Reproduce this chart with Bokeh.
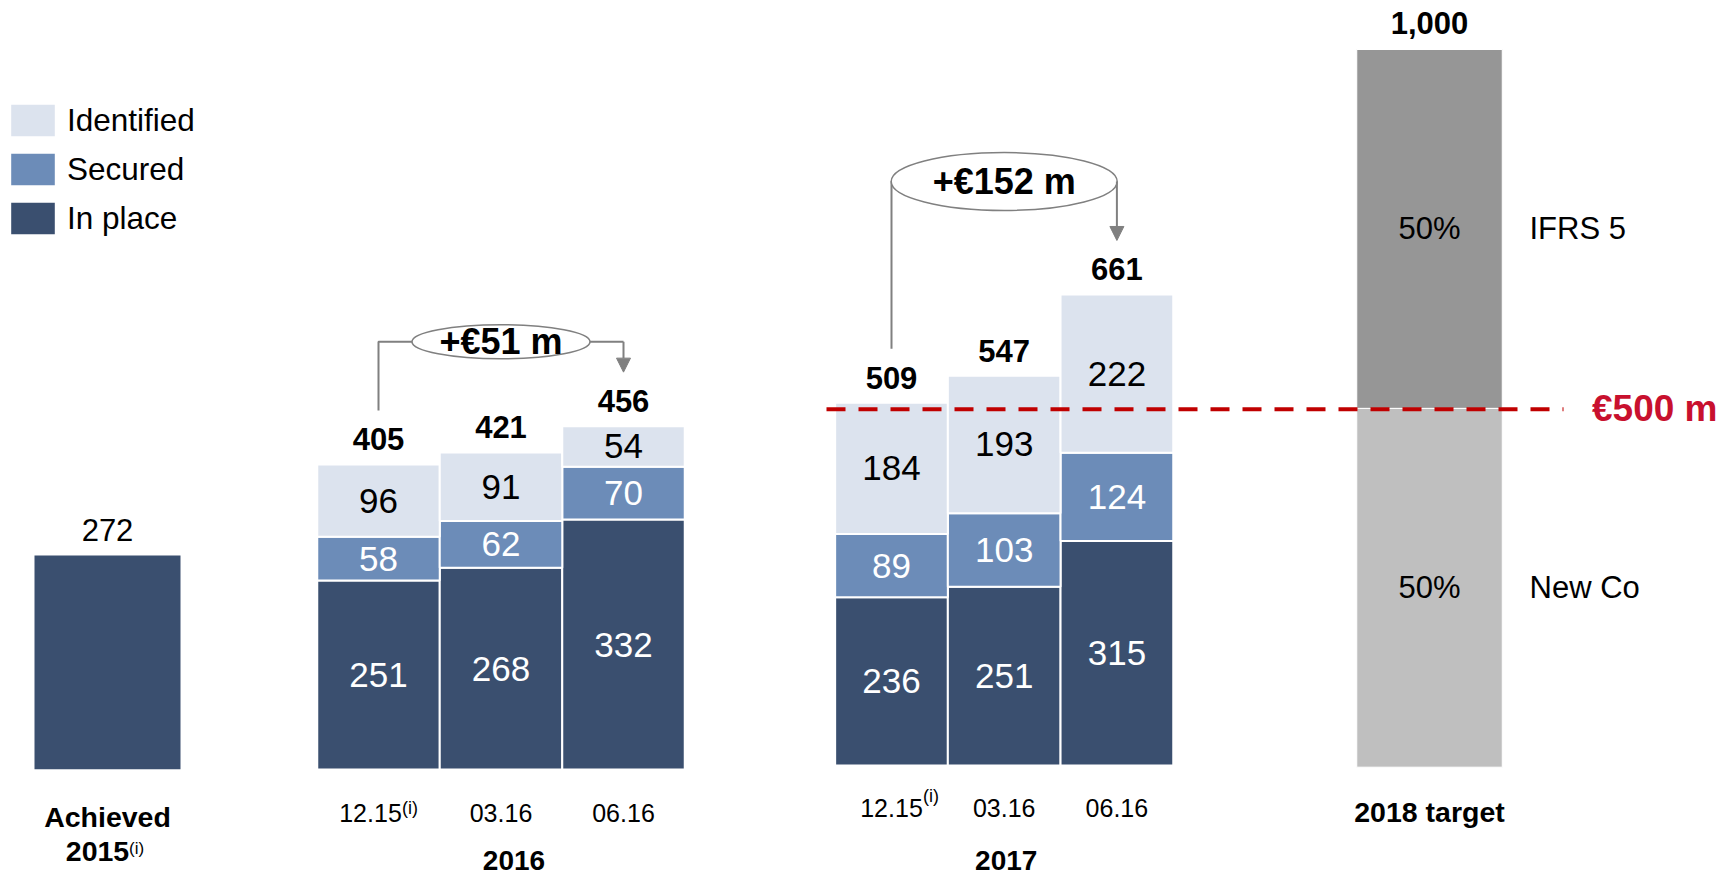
import numpy as np
from bokeh.plotting import figure
from bokeh.models import (Range1d, ColumnDataSource, Legend, LegendItem, Arrow,
                          NormalHead)
from bokeh.core.properties import value
from bokeh.embed import file_html
from bokeh.resources import INLINE

# ---------------- data (EUR m) ----------------
series_names = ["In place", "Secured", "Identified"]

achieved_label = "Achieved"
achieved_year = "2015"
achieved_in_place = [272]

periods = ["12.15", "03.16", "06.16"]
period_notes = ["(i)", "", ""]

y2016_in_place = [251, 268, 332]
y2016_secured = [58, 62, 70]
y2016_identified = [96, 91, 54]

y2017_in_place = [236, 251, 315]
y2017_secured = [89, 103, 124]
y2017_identified = [184, 193, 222]

target_label = "2018 target"
target_parts = ["New Co", "IFRS 5"]
target_values = [500, 500]

threshold = 500

# ---------------- layout / style ----------------
W, H = 1732, 876
FONT = "Liberation Sans"
FV = value(FONT)
C_IN, C_SEC, C_ID = "#3A4F6F", "#6C8CB8", "#DCE3EE"
C_NEWCO, C_IFRS = "#BFBFBF", "#969696"
GRAY = "#808080"
RED_LINE, RED_TEXT = "#C00000", "#C8102E"

# panel geometry: first bar centre (px), px per category, baseline (px), px per EUR m
GEOM = {
    "g15": (107.0, 146.0, 768.7, 0.786),
    "g16": (378.0, 122.5, 769.0, 0.753),
    "g17": (891.0, 112.7, 765.0, 0.7126),
    "g18": (1429.0, 145.5, 766.7, 0.7177),
}


def xrange_for(g):
    first, step, base, k = GEOM[g]
    return Range1d(-first / step, (W - first) / step)


def yrange_for(g):
    first, step, base, k = GEOM[g]
    return Range1d(-(H - base) / k, base / k)


def R(g):
    return dict(x_range_name=g, y_range_name=g)


p = figure(width=W, height=H, x_range=xrange_for("g16"), y_range=yrange_for("g16"),
           x_axis_type=None, y_axis_type=None, toolbar_location=None,
           min_border=0, outline_line_color=None, output_backend="svg",
           background_fill_color="white", border_fill_color="white")
p.extra_x_ranges = {g: xrange_for(g) for g in GEOM}
p.extra_y_ranges = {g: yrange_for(g) for g in GEOM}


def texts(g, xs, ys, labels, size, bold=False, color="black", align="center",
          baseline="middle", dx=0, dy=0):
    n = len(labels)
    src = ColumnDataSource(dict(
        x=list(xs), y=list(ys), text=list(labels),
        color=color if isinstance(color, list) else [color] * n,
        dx=dx if isinstance(dx, list) else [dx] * n,
        dy=dy if isinstance(dy, list) else [dy] * n,
    ))
    p.text(x="x", y="y", text="text", source=src, text_color="color",
           x_offset="dx", y_offset="dy", text_font=FV, text_font_size=size,
           text_font_style="bold" if bold else "normal", text_align=align,
           text_baseline=baseline, **R(g))


# ---------------- Achieved 2015 ----------------
p.vbar(x=[0], top=achieved_in_place, width=1.0, fill_color=C_IN, line_color=None, **R("g15"))
texts("g15", [0], achieved_in_place, [str(v) for v in achieved_in_place], "31px", dy=-25.3)
texts("g15", [0], [0], [achieved_label], "28.5px", bold=True, dy=47.8)
texts("g15", [0], [0], [achieved_year], "28.5px", bold=True, dy=82.3, dx=-10)
texts("g15", [0], [0], ["(i)"], "17px", align="left", dy=79.5, dx=21.5)


# ---------------- stacked periods ----------------
def stacked_panel(g, inplace, sec, ident, year, note_dx, note_dy, main_dx, main_dy,
                  year_dx, year_dy):
    n = len(inplace)
    xs = list(range(n))
    src = ColumnDataSource(dict(x=xs, inplace=inplace, secured=sec, identified=ident))
    rs = p.vbar_stack(["inplace", "secured", "identified"], x="x", width=1.0, source=src,
                      fill_color=[C_IN, C_SEC, C_ID], line_color="white", line_width=2,
                      **R(g))
    ip, s, i_ = (np.array(a, dtype=float) for a in (inplace, sec, ident))
    ys = list(ip / 2) + list(ip + s / 2) + list(ip + s + i_ / 2)
    labs = [str(v) for v in list(inplace) + list(sec) + list(ident)]
    cols = ["white"] * (2 * n) + ["black"] * n
    texts(g, xs * 3, ys, labs, "35px", color=cols)
    totals = list(ip + s + i_)
    texts(g, xs, totals, ["{:,}".format(int(t)) for t in totals], "31px", bold=True,
          dy=-25.1)
    # period labels
    dxs = [main_dx if note else 0 for note in period_notes]
    texts(g, xs, [0] * n, periods, "25px", dx=dxs, dy=main_dy)
    nx = [x for x, note in zip(xs, period_notes) if note]
    texts(g, nx, [0] * len(nx), [nt for nt in period_notes if nt], "18px",
          align="left", dx=note_dx, dy=note_dy)
    texts(g, [xs[n // 2]], [0], [year], "28px", bold=True, dx=year_dx, dy=year_dy)
    return rs, totals


r16, tot16 = stacked_panel("g16", y2016_in_place, y2016_secured, y2016_identified, "2016",
                           note_dx=23.5, note_dy=38.0, main_dx=-8, main_dy=43.1,
                           year_dx=13, year_dy=90.8)
r17, tot17 = stacked_panel("g17", y2017_in_place, y2017_secured, y2017_identified, "2017",
                           note_dx=31.5, note_dy=30.0, main_dx=0, main_dy=42.8,
                           year_dx=2, year_dy=94.8)

# ---------------- 2018 target ----------------
src18 = ColumnDataSource(dict(x=[0], newco=[target_values[0]], ifrs=[target_values[1]]))
p.vbar_stack(["newco", "ifrs"], x="x", width=1.0, source=src18,
             fill_color=[C_NEWCO, C_IFRS], line_color="white", line_width=1, **R("g18"))
tv = np.array(target_values, dtype=float)
tmid = list(np.cumsum(tv) - tv / 2)
ttot = float(tv.sum())
shares = ["{:.0f}%".format(100 * v / ttot) for v in tv]
texts("g18", [0, 0], tmid, shares, "31px")
texts("g18", [0, 0], tmid, target_parts, "31px", align="left", dx=100)
texts("g18", [0], [ttot], ["{:,}".format(int(ttot))], "31px", bold=True, dy=-26.8)
texts("g18", [0], [0], [target_label], "28.5px", bold=True, dy=44.8)

# ---------------- threshold line ----------------
f17, s17, _, _ = GEOM["g17"]
dash_x = [(826 - f17) / s17, (1563 - f17) / s17]
p.line(dash_x, [threshold, threshold], line_color=RED_LINE, line_width=4,
       line_dash="19 13", **R("g17"))
texts("g18", [0], [threshold], ["€{} m".format(threshold)], "37px", bold=True,
      color=RED_TEXT, align="left", dx=162.5)


# ---------------- growth brackets ----------------
def bracket(g, totals, level, ell_w, ell_h):
    first, step, base, k = GEOM[g]
    lift = 54 / k
    x0, x2 = 0, len(totals) - 1
    xm = (x0 + x2) / 2
    p.line([x0, x0, x2], [totals[0] + lift, level, level], line_color=GRAY,
           line_width=2, **R(g))
    p.add_layout(Arrow(end=NormalHead(size=14, fill_color=GRAY, line_color=GRAY, line_width=1),
                       x_start=x2, y_start=level, x_end=x2, y_end=totals[-1] + lift,
                       line_color=GRAY, line_width=2, **R(g)))
    p.ellipse(x=[xm], y=[level], width=ell_w, height=ell_h, width_units="screen",
              height_units="screen", fill_color="white", line_color=GRAY,
              line_width=1.5, **R(g))
    delta = int(totals[-1] - totals[0])
    texts(g, [xm], [level], ["+€{} m".format(delta)], "36px", bold=True)


bracket("g16", tot16, 568, 178, 34)
bracket("g17", tot17, 819.5, 226, 58)

# ---------------- legend ----------------
legend = Legend(items=[LegendItem(label=series_names[2], renderers=[r16[2]]),
                       LegendItem(label=series_names[1], renderers=[r16[1]]),
                       LegendItem(label=series_names[0], renderers=[r16[0]])],
                location=(4, 636.9), glyph_width=57, glyph_height=42,
                label_height=32, label_standoff=6, spacing=7, padding=0, margin=0,
                border_line_color=None, background_fill_alpha=0,
                label_text_font=FONT, label_text_font_size="31.5px",
                label_text_color="black")
p.add_layout(legend)

open("out.html", "w").write(file_html(p, INLINE, title="Cost savings"))
